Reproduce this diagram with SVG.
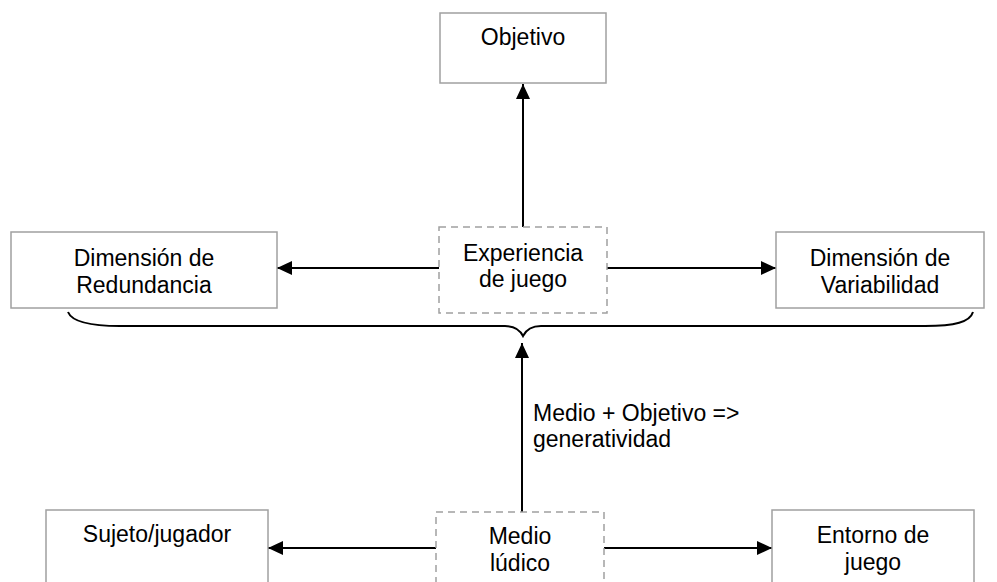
<svg xmlns="http://www.w3.org/2000/svg" width="997" height="582" viewBox="0 0 997 582">
<defs>
<marker id="ah" markerUnits="userSpaceOnUse" markerWidth="16" markerHeight="14" refX="15" refY="7" orient="auto">
<path d="M0,0 L15,7 L0,14 Z" fill="#000"/>
</marker>
<style>
.box{fill:#fff;stroke:#a0a0a0;stroke-width:1.5}
.dbox{fill:#fff;stroke:#a0a0a0;stroke-width:1.5;stroke-dasharray:7 5}
.t{font-family:"Liberation Sans",Arial,sans-serif;font-size:23px;fill:#000;text-anchor:middle}
.lbl{font-family:"Liberation Sans",Arial,sans-serif;font-size:23px;fill:#000}
.c{stroke:#000;stroke-width:2;fill:none}
</style>
</defs>
<rect width="997" height="582" fill="#fff"/>
<g id="connectors">
<line class="c" x1="523" y1="227" x2="523" y2="84" marker-end="url(#ah)"/>
<line class="c" x1="439" y1="268" x2="277" y2="268" marker-end="url(#ah)"/>
<line class="c" x1="607" y1="268" x2="776" y2="268" marker-end="url(#ah)"/>
<path class="c" d="M68,312 C72,322 90,326 120,326 L505,326 C515,326 520,330 523,336 C526,330 531,326 541,326 L925,326 C955,326 970,322 973,312"/>
<line class="c" x1="522" y1="512" x2="522" y2="343" marker-end="url(#ah)"/>
<line class="c" x1="436" y1="548" x2="268" y2="548" marker-end="url(#ah)"/>
<line class="c" x1="604" y1="548" x2="772" y2="548" marker-end="url(#ah)"/>
<text class="lbl" x="533" y="421">Medio + Objetivo =&gt;</text>
<text class="lbl" x="533" y="447">generatividad</text>
</g>
<g id="objetivo">
<rect class="box" x="440" y="13" width="166" height="70"/>
<text class="t" x="523" y="45">Objetivo</text>
</g>
<g id="experiencia">
<rect class="dbox" x="439" y="227" width="168" height="86"/>
<text class="t" x="523" y="261">Experiencia</text>
<text class="t" x="523" y="287">de juego</text>
</g>
<g id="redundancia">
<rect class="box" x="11" y="232" width="266" height="76"/>
<text class="t" x="144" y="266">Dimensión de</text>
<text class="t" x="144" y="293">Redundancia</text>
</g>
<g id="variabilidad">
<rect class="box" x="776" y="232" width="208" height="76"/>
<text class="t" x="880" y="266">Dimensión de</text>
<text class="t" x="880" y="293">Variabilidad</text>
</g>
<g id="medio">
<rect class="dbox" x="436" y="512" width="168" height="90"/>
<text class="t" x="520" y="544">Medio</text>
<text class="t" x="520" y="571">lúdico</text>
</g>
<g id="sujeto">
<rect class="box" x="46" y="510" width="222" height="90"/>
<text class="t" x="157" y="542">Sujeto/jugador</text>
</g>
<g id="entorno">
<rect class="box" x="772" y="510" width="202" height="90"/>
<text class="t" x="873" y="543">Entorno de</text>
<text class="t" x="873" y="570">juego</text>
</g>
</svg>
